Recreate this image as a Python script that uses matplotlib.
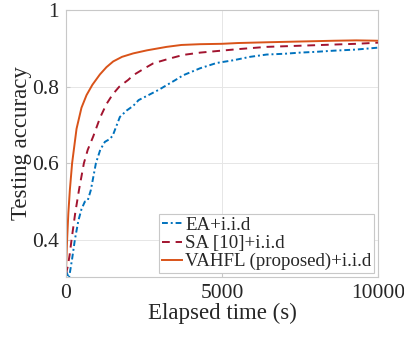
import matplotlib
matplotlib.use("Agg")
import matplotlib.pyplot as plt

plt.rcParams['font.family'] = ['Liberation Serif', 'DejaVu Serif']
plt.rcParams['mathtext.fontset'] = 'stix'

# Elapsed time (s)
t_vahfl = [0, 40, 80, 128, 200, 342, 500, 662, 850, 1090, 1300, 1517, 1800, 2158, 2600,
           3226, 3700, 4295, 5000, 5500, 6432, 7500, 8568, 9300, 10000]
acc_vahfl = [0.31, 0.40, 0.47, 0.53, 0.60, 0.69, 0.745, 0.778, 0.805, 0.832, 0.851, 0.866,
             0.878, 0.887, 0.895, 0.904, 0.909, 0.911, 0.912, 0.914, 0.916, 0.918, 0.920,
             0.921, 0.920]

t_sa = [0, 60, 120, 182, 300, 420, 577, 700, 876, 1100, 1303, 1500, 1710, 2000, 2158, 2500,
        2799, 3300, 3760, 4300, 4829, 5500, 6432, 7500, 8568, 9300, 10000]
acc_sa = [0.31, 0.33, 0.36, 0.40, 0.47, 0.53, 0.60, 0.635, 0.67, 0.72, 0.755, 0.78, 0.80,
          0.818, 0.83, 0.847, 0.861, 0.873, 0.883, 0.889, 0.893, 0.898, 0.904, 0.907,
          0.910, 0.912, 0.915]

t_ea = [0, 50, 100, 200, 288, 400, 500, 609, 700, 800, 962, 1100, 1250, 1400, 1500,
        1730, 1950, 2158, 2330, 2692, 3000, 3226, 3500, 3760, 4000, 4295, 4600, 4829,
        5363, 5900, 6432, 7000, 7500, 8000, 8568, 9300, 10000]
acc_ea = [0.32, 0.31, 0.30, 0.35, 0.40, 0.45, 0.48, 0.50, 0.503, 0.53, 0.60, 0.635,
          0.656, 0.663, 0.672, 0.721, 0.738, 0.750, 0.765, 0.780, 0.793, 0.804, 0.817,
          0.830, 0.838, 0.848, 0.856, 0.862, 0.869, 0.878, 0.884, 0.886, 0.889, 0.891,
          0.894, 0.897, 0.902]

labels = ['EA+i.i.d', 'SA [10]+i.i.d', 'VAHFL (proposed)+i.i.d']
xticks = [0, 5000, 10000]
yticks = [0.4, 0.6, 0.8, 1.0]
ytick_labels = ['0.4', '0.6', '0.8', '1']

fig = plt.figure(figsize=(4.04, 3.37), dpi=100)
ax = fig.add_axes([0.163, 0.178, 0.773, 0.792])

ax.plot(t_ea, acc_ea, linestyle=(0, (3, 1.5, 1, 1.5)), color='#0072BD', lw=1.4, label=labels[0])
ax.plot(t_sa, acc_sa, linestyle=(0, (4, 3)), color='#A2142F', lw=1.4, label=labels[1])
ax.plot(t_vahfl, acc_vahfl, linestyle='-', color='#D95319', lw=1.4, label=labels[2])

ax.set_xlim(0, 10000)
ax.set_ylim(0.303, 1.0)
ax.set_xticks(xticks)
ax.set_xticklabels([str(v) for v in xticks])
ax.set_yticks(yticks)
ax.set_yticklabels(ytick_labels)
ax.grid(True, color='#e6e6e6', lw=0.7)
ax.set_axisbelow(True)
for s in ax.spines.values():
    s.set_color('#c8c8c8')
    s.set_linewidth(0.8)
ax.tick_params(direction='in', length=3, color='#c8c8c8', labelsize=15.5,
               labelcolor='#262626', pad=5)
ax.set_xlabel('Elapsed time (s)', fontsize=16.5, color='#262626', labelpad=0)
ax.set_ylabel('Testing accuracy', fontsize=16.5, color='#262626', labelpad=0)

leg = ax.legend(loc='lower right', fontsize=13.6, handlelength=1.1, handletextpad=0.15,
                borderpad=0.15, labelspacing=0.05, borderaxespad=0.2, fancybox=False,
                edgecolor='#c8c8c8', framealpha=1)
leg.get_frame().set_linewidth(0.8)
for txt in leg.get_texts():
    txt.set_color('#262626')

fig.savefig('out.png', dpi=100)
